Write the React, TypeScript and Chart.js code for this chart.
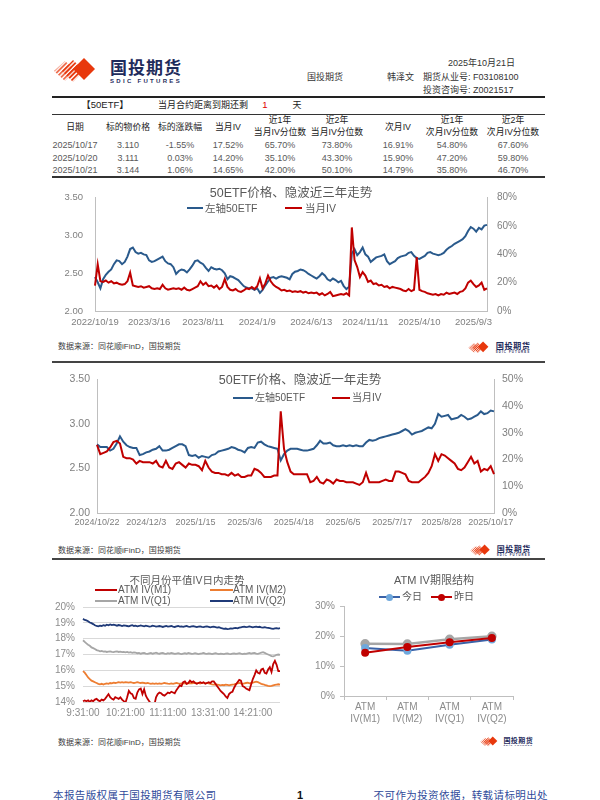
import React, { useEffect, useRef } from "react";
import { Chart, registerables } from "chart.js";

Chart.register(...registerables);

// ================= DATA =================
const reportDate = "2025年10月21日";
const tableDates = ["2025/10/17", "2025/10/20", "2025/10/21"];
const tablePrice = ["3.110", "3.111", "3.144"];
const tableChange = ["-1.55%", "0.03%", "1.06%"];
const tableIvM1 = ["17.52%", "14.20%", "14.65%"];
const tablePct1yM1 = ["65.70%", "35.10%", "42.00%"];
const tablePct2yM1 = ["73.80%", "43.30%", "50.10%"];
const tableIvM2 = ["16.91%", "15.90%", "14.79%"];
const tablePct1yM2 = ["54.80%", "47.20%", "35.80%"];
const tablePct2yM2 = ["67.60%", "59.80%", "46.70%"];
const daysToExpiry = "1";

const ticks3y = ["2022/10/19", "2023/3/16", "2023/8/11", "2024/1/9", "2024/6/13", "2024/11/11", "2025/4/10", "2025/9/3"];
const etf3y = [
  2.45, 2.38, 2.30, 2.42, 2.48, 2.52, 2.55, 2.62, 2.67, 2.66,
  2.62, 2.65, 2.72, 2.82, 2.84, 2.78, 2.76, 2.77, 2.75, 2.74,
  2.67, 2.65, 2.66, 2.68, 2.70, 2.72, 2.66, 2.63, 2.62, 2.58,
  2.49, 2.53, 2.55, 2.54, 2.51, 2.55, 2.60, 2.66, 2.67, 2.64,
  2.62, 2.57, 2.53, 2.58, 2.56, 2.55, 2.56, 2.54, 2.50, 2.42,
  2.46, 2.45, 2.43, 2.41, 2.37, 2.33, 2.31, 2.30, 2.30, 2.28,
  2.30, 2.24, 2.28, 2.34, 2.39, 2.44, 2.45, 2.43, 2.45, 2.46,
  2.45, 2.44, 2.42, 2.49, 2.52, 2.53, 2.55, 2.54, 2.52, 2.49,
  2.47, 2.45, 2.43, 2.46, 2.50, 2.47, 2.42, 2.40, 2.43, 2.41,
  2.38, 2.40, 2.33, 2.29, 2.32, 2.76, 2.82, 2.74, 2.78, 2.84,
  2.75, 2.72, 2.65, 2.68, 2.71, 2.72, 2.73, 2.75, 2.66, 2.62,
  2.64, 2.66, 2.70, 2.72, 2.73, 2.74, 2.77, 2.78, 2.73, 2.70,
  2.69, 2.71, 2.73, 2.77, 2.78, 2.76, 2.75, 2.74, 2.75, 2.77,
  2.81, 2.84, 2.86, 2.89, 2.91, 2.93, 2.95, 2.99, 3.06, 3.11,
  3.09, 3.05, 3.10, 3.08, 3.13, 3.14,
];
const iv3y = [
  18.0, 33.0, 21.0, 20.5, 21.5, 20.0, 21.0, 19.5, 20.0, 19.0,
  18.5, 19.0, 21.0, 27.0, 18.0, 17.5, 17.0, 17.5, 16.5, 17.0,
  17.5, 16.0, 15.5, 16.0, 15.5, 18.5, 16.0, 15.0, 15.5, 16.0,
  15.5, 16.0, 15.0, 16.5, 15.0, 14.5, 15.5, 16.5, 17.5, 21.0,
  18.5, 20.0, 17.5, 18.0, 16.5, 18.0, 15.5, 17.0, 22.5, 17.0,
  15.0, 14.5, 15.5, 14.0, 13.5, 14.5, 16.0, 15.5, 17.0, 15.5,
  17.5, 23.0, 16.0, 19.5, 25.0, 21.0, 18.5, 17.0, 16.0, 14.5,
  15.0, 14.0, 14.5, 13.5, 14.0, 13.5, 14.0, 13.0, 13.5, 12.5,
  13.0, 12.5, 13.0, 11.5, 12.5, 11.0, 12.0, 13.5, 10.5, 11.0,
  11.5, 12.0, 11.5, 12.5, 11.0, 59.0, 36.0, 31.0, 24.0, 27.5,
  25.0, 20.5, 21.5, 19.0, 19.5, 18.0, 18.5, 17.0, 17.5, 16.0,
  17.0, 16.5, 16.0, 15.5, 14.5, 14.0, 15.5, 14.0, 15.0, 38.0,
  15.0, 14.0, 13.5, 12.5, 12.0, 11.5, 12.0, 11.0, 12.0, 11.5,
  13.0, 12.0, 12.5, 13.0, 12.0, 13.5, 14.0, 16.0, 20.0, 21.5,
  19.0, 17.0, 18.0, 20.0, 15.0, 16.0,
];

const ticks1y = ["2024/10/22", "2024/12/3", "2025/1/15", "2025/3/6", "2025/4/18", "2025/6/5", "2025/7/17", "2025/8/28", "2025/10/17"];
const etf1y = [
  2.77, 2.74, 2.74, 2.74, 2.70, 2.72, 2.78, 2.86, 2.80, 2.76,
  2.74, 2.73, 2.73, 2.65, 2.66, 2.68, 2.69, 2.71, 2.72, 2.75,
  2.70, 2.70, 2.71, 2.73, 2.75, 2.77, 2.77, 2.75, 2.65, 2.64,
  2.65, 2.62, 2.64, 2.63, 2.62, 2.65, 2.66, 2.69, 2.70, 2.71,
  2.72, 2.74, 2.73, 2.71, 2.70, 2.68, 2.73, 2.74, 2.73, 2.79,
  2.80, 2.77, 2.75, 2.74, 2.73, 2.72, 2.59, 2.66, 2.70, 2.72,
  2.72, 2.72, 2.71, 2.70, 2.70, 2.71, 2.72, 2.76, 2.81, 2.78,
  2.78, 2.79, 2.76, 2.75, 2.75, 2.76, 2.75, 2.76, 2.75, 2.76,
  2.75, 2.75, 2.79, 2.82, 2.81, 2.82, 2.84, 2.85, 2.86, 2.87,
  2.88, 2.89, 2.90, 2.92, 2.94, 2.92, 2.88, 2.90, 2.91, 2.92,
  2.94, 2.96, 2.95, 3.00, 3.11, 3.08, 3.09, 3.10, 3.05, 3.06,
  3.07, 3.10, 3.08, 3.05, 3.06, 3.08, 3.10, 3.14, 3.11, 3.12,
  3.15, 3.14,
];
const iv1y = [
  25.5, 22.0, 22.5, 23.0, 24.5, 26.5, 27.0, 26.0, 21.0, 20.5,
  20.5, 20.0, 18.5, 19.5, 19.0, 19.0, 19.0, 18.5, 19.5, 17.5,
  17.0, 19.5, 17.0, 16.5, 18.5, 19.0, 18.0, 17.0, 18.5, 18.0,
  18.0, 17.5, 16.0, 19.5, 17.0, 15.5, 15.0, 15.0, 14.5, 14.5,
  14.0, 15.0, 14.0, 14.5, 13.5, 13.5, 14.0, 14.0, 16.5, 16.0,
  15.0, 13.5, 13.5, 13.5, 14.0, 14.0, 38.0, 24.0, 19.0, 15.5,
  14.5, 14.5, 14.5, 14.5, 14.5, 11.5, 12.0, 13.5, 11.5, 11.0,
  12.5, 12.0, 11.0, 12.5, 12.0, 12.0, 11.5, 11.5, 11.5, 11.0,
  10.5, 11.5, 15.0, 11.5, 11.5, 11.5, 11.5, 12.0, 12.5, 12.0,
  12.0, 15.5, 15.5, 15.0, 14.5, 12.0, 11.5, 11.5, 11.5, 12.5,
  13.5, 15.0, 17.5, 22.0, 19.5, 22.0, 21.5, 20.5, 19.5, 18.5,
  16.5, 16.0, 17.0, 19.0, 21.0, 18.5, 19.5, 15.5, 16.5, 16.0,
  17.5, 14.5,
];

const ticksIntraday = ["9:31:00", "10:21:00", "11:11:00", "13:31:00", "14:21:00"];
const ivM1 = [
  14.05, 14.10, 14.05, 14.10, 14.00, 14.10, 14.05, 14.15, 14.20, 14.10,
  14.05, 14.15, 14.10, 14.20, 14.35, 14.50, 14.30, 14.20, 14.15, 14.30,
  14.25, 14.20, 14.30, 14.15, 14.05, 13.95, 14.30, 14.70, 14.55, 14.50,
  14.25, 14.20, 14.60, 14.80, 14.85, 14.50, 14.80, 14.40, 14.20, 14.05,
  13.90, 13.70, 13.80, 14.30, 14.50, 14.60, 14.55, 14.45, 14.40, 14.50,
  14.60, 14.55, 14.65, 14.60, 14.55, 14.75, 14.90, 15.05, 15.00, 15.25,
  15.30, 15.15, 15.20, 15.35, 15.25, 15.30, 15.20, 15.15, 15.20, 15.25,
  15.20, 15.25, 15.15, 15.20, 15.25, 15.20, 15.30, 15.30, 15.15, 15.00,
  14.85, 14.70, 14.60, 14.50, 14.35, 14.25, 14.50, 14.60, 14.65, 14.90,
  15.10, 15.25, 15.40, 15.35, 15.00, 14.95, 14.85, 14.80, 14.75, 15.10,
  15.45, 15.70, 16.00, 15.85, 15.80, 16.05, 16.10, 15.85, 15.80, 16.05,
  16.20, 15.90, 16.40, 16.60, 16.35, 15.95, 15.95,
];
const ivM2 = [
  15.95, 15.85, 15.70, 15.55, 15.45, 15.35, 15.30, 15.25, 15.20, 15.15,
  15.12, 15.15, 15.10, 15.15, 15.18, 15.15, 15.20, 15.18, 15.22, 15.20,
  15.22, 15.25, 15.22, 15.25, 15.23, 15.26, 15.24, 15.22, 15.25, 15.22,
  15.20, 15.22, 15.25, 15.22, 15.20, 15.22, 15.20, 15.18, 15.20, 15.17,
  15.15, 15.18, 15.15, 15.17, 15.15, 15.18, 15.15, 15.17, 15.20, 15.18,
  15.16, 15.15, 15.17, 15.15, 15.18, 15.20, 15.17, 15.15, 15.18, 15.20,
  15.18, 15.16, 15.18, 15.20, 15.18, 15.20, 15.22, 15.18, 15.20, 15.17,
  15.20, 15.22, 15.18, 15.20, 15.17, 15.15, 15.12, 15.10, 15.12, 15.10,
  15.08, 15.05, 15.08, 15.06, 15.10, 15.08, 15.05, 15.08, 15.10, 15.12,
  15.15, 15.18, 15.20, 15.17, 15.15, 15.18, 15.20, 15.22, 15.18, 15.20,
  15.22, 15.25, 15.28, 15.25, 15.20, 15.15, 15.12, 15.08, 15.05, 15.02,
  15.00, 15.02, 15.05, 15.08, 15.10, 15.12, 15.10,
];
const ivQ1 = [
  17.90, 17.80, 17.70, 17.62, 17.55, 17.45, 17.40, 17.35, 17.28, 17.25,
  17.20, 17.22, 17.18, 17.20, 17.16, 17.18, 17.20, 17.17, 17.15, 17.18,
  17.20, 17.16, 17.18, 17.15, 17.17, 17.14, 17.16, 17.12, 17.15, 17.10,
  17.13, 17.12, 17.08, 17.10, 17.05, 17.08, 17.10, 17.06, 17.04, 17.07,
  17.10, 17.05, 17.08, 17.12, 17.07, 17.05, 17.08, 17.10, 17.06, 17.04,
  17.08, 17.06, 17.10, 17.07, 17.04, 17.06, 17.08, 17.05, 17.03, 17.06,
  17.08, 17.05, 17.10, 17.07, 17.04, 17.06, 17.09, 17.06, 17.03, 17.05,
  17.07, 17.10, 17.06, 17.04, 17.07, 17.05, 17.02, 17.05, 17.08, 17.05,
  17.03, 17.06, 17.04, 17.02, 17.05, 17.07, 17.04, 17.02, 17.05, 17.07,
  17.04, 17.06, 17.08, 17.05, 17.03, 17.06, 17.04, 17.07, 17.10, 17.06,
  17.08, 17.10, 17.06, 17.04, 17.08, 17.12, 17.15, 17.10, 17.05, 17.00,
  16.95, 16.90, 16.88, 16.92, 16.98, 17.00, 16.98,
];
const ivQ2 = [
  19.25, 19.18, 19.15, 19.10, 19.02, 18.98, 18.92, 18.85, 18.80, 18.78,
  18.82, 18.80, 18.85, 18.82, 18.88, 18.84, 18.90, 18.86, 18.88, 18.85,
  18.82, 18.86, 18.84, 18.80, 18.84, 18.82, 18.80, 18.78, 18.82, 18.85,
  18.80, 18.82, 18.78, 18.80, 18.84, 18.80, 18.78, 18.82, 18.80, 18.76,
  18.78, 18.82, 18.80, 18.76, 18.78, 18.80, 18.78, 18.74, 18.78, 18.80,
  18.76, 18.78, 18.80, 18.76, 18.74, 18.78, 18.80, 18.76, 18.78, 18.75,
  18.78, 18.80, 18.76, 18.74, 18.77, 18.79, 18.76, 18.73, 18.76, 18.78,
  18.75, 18.73, 18.76, 18.78, 18.75, 18.72, 18.74, 18.76, 18.73, 18.70,
  18.72, 18.68, 18.65, 18.62, 18.64, 18.60, 18.62, 18.65, 18.63, 18.66,
  18.68, 18.65, 18.70, 18.72, 18.74, 18.76, 18.73, 18.75, 18.78, 18.75,
  18.72, 18.74, 18.76, 18.73, 18.75, 18.72, 18.70, 18.73, 18.70, 18.68,
  18.66, 18.64, 18.62, 18.65, 18.67, 18.64, 18.66,
];

const termCategories = [["ATM", "IV(M1)"], ["ATM", "IV(M2)"], ["ATM", "IV(Q1)"], ["ATM", "IV(Q2)"]];
const termToday = [16.0, 15.1, 17.1, 18.8];
const termYesterday = [14.4, 16.3, 17.9, 19.3];
const termEarlier = [17.4, 17.3, 18.9, 19.9];

// ================= STYLE =================
const FONT = '"Liberation Sans", Arial, "Noto Sans CJK SC", sans-serif';
const CJK = '"Noto Sans CJK SC", "Liberation Sans", sans-serif';
const BLUE = "#2A5A8C";
const RED = "#C00000";
const ORANGE = "#ED7D31";
const GRAY = "#A6A6A6";
const NAVY = "#1F3A78";
const AXIS = "#BFBFBF";
const TICK = "#7F7F7F";

const labelsFrom = (n: number, step: number, ticks: string[]) =>
  Array.from({ length: n }, (_, i) => (i % step === 0 && ticks[i / step] ? ticks[i / step] : ""));

function dualConfig(etf: number[], iv: number[], ticks: string[], step: number, o: any) {
  return {
    type: "line",
    data: {
      labels: labelsFrom(etf.length, step, ticks),
      datasets: [
        { label: "当月IV", data: iv, yAxisID: "yR", borderColor: RED, borderWidth: 2, pointRadius: 0, order: 0 },
        { label: "左轴50ETF", data: etf, yAxisID: "yL", borderColor: BLUE, borderWidth: 2, pointRadius: 0, order: 1 },
      ],
    },
    options: {
      responsive: false,
      maintainAspectRatio: false,
      animation: false,
      layout: { padding: { top: o.top, left: 0, right: 0, bottom: 0 } },
      plugins: { legend: { display: false }, tooltip: { enabled: false }, title: { display: false } },
      elements: { line: { tension: 0 } },
      scales: {
        x: {
          type: "category",
          grid: { display: false, drawTicks: false },
          border: { display: true, color: AXIS, width: 1 },
          ticks: { autoSkip: false, maxRotation: 0, minRotation: 0, padding: o.xPad, color: TICK, font: { size: o.xFont, family: FONT } },
          afterFit: (s: any) => { s.height = o.xH; },
        },
        yL: {
          type: "linear",
          position: "left",
          min: 2,
          max: 3.5,
          grid: { display: false, drawTicks: false },
          border: { display: true, color: AXIS, width: 1 },
          ticks: { stepSize: 0.5, padding: o.lPad, color: TICK, font: { size: o.lFont, family: FONT }, callback: (v: any) => Number(v).toFixed(2) },
          afterFit: (s: any) => { s.width = o.lW; },
        },
        yR: {
          type: "linear",
          position: "right",
          min: 0,
          max: o.rMax,
          grid: { display: false, drawTicks: false },
          border: { display: true, color: AXIS, width: 1 },
          ticks: { stepSize: o.rStep, padding: o.rPad, color: TICK, font: { size: o.rFont, family: FONT }, callback: (v: any) => v + "%" },
          afterFit: (s: any) => { s.width = o.rW; },
        },
      },
    },
  };
}

function intradayConfig() {
  const ds = (label: string, data: number[], color: string, order: number) => ({
    label, data, borderColor: color, borderWidth: 1.8, pointRadius: 0, order,
  });
  return {
    type: "line",
    data: {
      labels: labelsFrom(ivM1.length, 25, ticksIntraday),
      datasets: [
        ds("ATM IV(M1)", ivM1, RED, 0),
        ds("ATM IV(M2)", ivM2, ORANGE, 1),
        ds("ATM IV(Q1)", ivQ1, GRAY, 2),
        ds("ATM IV(Q2)", ivQ2, NAVY, 3),
      ],
    },
    options: {
      responsive: false,
      maintainAspectRatio: false,
      animation: false,
      layout: { padding: { top: 42, left: 0, right: 20, bottom: 0 } },
      plugins: { legend: { display: false }, tooltip: { enabled: false } },
      elements: { line: { tension: 0 } },
      scales: {
        x: {
          type: "category",
          grid: { display: false, drawTicks: false },
          border: { display: false },
          ticks: { autoSkip: false, maxRotation: 0, padding: 5, color: "#8C8C8C", font: { size: 10, family: FONT } },
          afterFit: (s: any) => { s.height = 28; },
        },
        y: {
          min: 14,
          max: 20,
          grid: { color: "#D9D9D9", drawTicks: false },
          border: { display: false },
          ticks: { stepSize: 1, padding: 8, color: "#8C8C8C", font: { size: 10, family: FONT }, callback: (v: any) => v + "%" },
          afterFit: (s: any) => { s.width = 43; },
        },
      },
    },
  };
}

function termConfig() {
  return {
    type: "line",
    data: {
      labels: termCategories,
      datasets: [
        { label: "昨日", data: termYesterday, borderColor: RED, backgroundColor: RED, pointBackgroundColor: RED, pointBorderColor: RED, borderWidth: 2, pointRadius: 3, order: 0 },
        { label: "今日", data: termToday, borderColor: "#3A62A7", backgroundColor: "#6FA8DC", pointBackgroundColor: "#6FA8DC", pointBorderColor: "#6FA8DC", borderWidth: 2, pointRadius: 3, order: 1 },
        { label: "前日", data: termEarlier, borderColor: GRAY, backgroundColor: GRAY, pointBackgroundColor: GRAY, pointBorderColor: GRAY, borderWidth: 2.5, pointRadius: 3.5, order: 2 },
      ],
    },
    options: {
      responsive: false,
      maintainAspectRatio: false,
      animation: false,
      layout: { padding: { top: 41, left: 0, right: 47, bottom: 0 } },
      plugins: { legend: { display: false }, tooltip: { enabled: false } },
      elements: { line: { tension: 0 } },
      scales: {
        x: {
          type: "category",
          offset: true,
          grid: { display: true, drawOnChartArea: false, drawTicks: true, tickLength: 4, offset: true, color: AXIS },
          border: { display: true, color: AXIS },
          ticks: { autoSkip: false, maxRotation: 0, padding: 1, color: "#8C8C8C", font: { size: 10, family: FONT } },
          afterFit: (s: any) => { s.height = 34; },
        },
        y: {
          min: 0,
          max: 30,
          grid: { display: true, drawOnChartArea: false, drawTicks: true, tickLength: 4, color: AXIS },
          border: { display: true, color: AXIS },
          ticks: { stepSize: 10, padding: 5, color: "#8C8C8C", font: { size: 10, family: FONT }, callback: (v: any) => v + "%" },
          afterFit: (s: any) => { s.width = 44; },
        },
      },
    },
  };
}

// ================= COMPONENTS =================
function ChartCanvas({ left, top, width, height, make }: any) {
  const ref = useRef<HTMLCanvasElement | null>(null);
  useEffect(() => {
    const chart = new Chart(ref.current as HTMLCanvasElement, make());
    return () => chart.destroy();
  }, []);
  return (
    <canvas
      ref={ref}
      width={width}
      height={height}
      style={{ position: "absolute", left, top, width, height }}
    />
  );
}

function Txt({ x, y, children, size = 9, color = "#333", align = "center", weight = 400, family = FONT, spacing = 0 }: any) {
  const tx = align === "center" ? "-50%" : align === "right" ? "-100%" : "0";
  return (
    <div
      style={{
        position: "absolute",
        left: x,
        top: y,
        transform: `translate(${tx},-50%)`,
        fontSize: size,
        color,
        fontWeight: weight,
        fontFamily: family,
        whiteSpace: "nowrap",
        lineHeight: 1,
        letterSpacing: spacing,
      }}
    >
      {children}
    </div>
  );
}

function HLine({ x1, x2, y, t = 1, color = "#333" }: any) {
  return <div style={{ position: "absolute", left: x1, top: y - t / 2, width: x2 - x1, height: t, background: color }} />;
}

function LegendItem({ x1, x2, y, color, text, textX, size = 10, marker, markerColor }: any) {
  return (
    <>
      <div style={{ position: "absolute", left: x1, top: y - 1.25, width: x2 - x1, height: 2.5, background: color }} />
      {marker ? (
        <div
          style={{
            position: "absolute",
            left: (x1 + x2) / 2 - 3.5,
            top: y - 3.5,
            width: 7,
            height: 7,
            borderRadius: "50%",
            background: markerColor || color,
          }}
        />
      ) : null}
      <Txt x={textX} y={y} align="left" size={size} color="#595959">{text}</Txt>
    </>
  );
}

function Logo({ x, y, w, id }: any) {
  const h = (w / 136) * 26;
  return (
    <svg style={{ position: "absolute", left: x, top: y }} width={w} height={h} viewBox="0 0 136 26">
      <defs>
        <pattern id={id} width="3.2" height="3.2" patternUnits="userSpaceOnUse" patternTransform="rotate(45)">
          <rect width="1.8" height="3.2" fill="#E8380D" />
        </pattern>
      </defs>
      <polygon points="1,14 12,4 23,14 12,24" fill={`url(#${id})`} opacity="0.75" />
      <polygon points="9,14 20,3 31,14 20,25" fill={`url(#${id})`} />
      <polygon points="20,12 31,1 42,12 31,23" fill="#E8380D" />
      <text x="57" y="17" fontSize="17" fontWeight="700" fill="#1F2C5C" fontFamily={CJK} letterSpacing="1">国投期货</text>
      <text x="57" y="25.5" fontSize="6" fontWeight="700" fill="#1F2C5C" fontFamily={FONT} letterSpacing="2.3">SDIC FUTURES</text>
    </svg>
  );
}

const colX = [75, 128, 180, 228, 280, 337, 398, 452, 513];
const tableHeaders = [
  ["日期"], ["标的物价格"], ["标的涨跌幅"], ["当月IV"], ["近1年", "当月IV分位数"],
  ["近2年", "当月IV分位数"], ["次月IV"], ["近1年", "次月IV分位数"], ["近2年", "次月IV分位数"],
];
const tableCols = [tableDates, tablePrice, tableChange, tableIvM1, tablePct1yM1, tablePct2yM1, tableIvM2, tablePct1yM2, tablePct2yM2];
const rowY = [145, 157.5, 170];

export default function App() {
  const src = "数据来源：同花顺iFinD，国投期货";
  return (
    <div
      style={{
        position: "absolute",
        left: 0,
        top: 0,
        width: 600,
        height: 800,
        background: "#fff",
        overflow: "hidden",
        fontFamily: FONT,
      }}
    >
      {/* header */}
      <Logo x={53} y={57} w={136} id="lg0" />
      <Txt x={515} y={63} align="right" size={9} color="#333">{reportDate}</Txt>
      <Txt x={307} y={77} align="left" size={9} color="#333">国投期货</Txt>
      <Txt x={387} y={77} align="left" size={9} color="#333">韩泽文</Txt>
      <Txt x={423} y={77} align="left" size={9} color="#333">期货从业号: F03108100</Txt>
      <Txt x={423} y={90} align="left" size={9} color="#333">投资咨询号: Z0021517</Txt>
      <HLine x1={52} x2={545} y={97} t={2} color="#222" />

      {/* table */}
      <Txt x={105} y={104.5} size={9.5} color="#222">【50ETF】</Txt>
      <Txt x={203} y={104.5} size={9} color="#222">当月合约距离到期还剩</Txt>
      <Txt x={265} y={104.5} size={9.5} color="#E00000">{daysToExpiry}</Txt>
      <Txt x={297} y={104.5} size={9} color="#222">天</Txt>
      <HLine x1={52} x2={545} y={114} t={1} color="#333" />
      {tableHeaders.map((h, c) =>
        h.length === 1 ? (
          <Txt key={"h" + c} x={colX[c]} y={126.5} size={8.8} color="#222">{h[0]}</Txt>
        ) : (
          <React.Fragment key={"h" + c}>
            <Txt x={colX[c]} y={120} size={8.8} color="#222">{h[0]}</Txt>
            <Txt x={colX[c]} y={132} size={8.8} color="#222">{h[1]}</Txt>
          </React.Fragment>
        )
      )}
      {tableCols.map((col, c) =>
        col.map((v, r) => (
          <Txt key={"d" + c + "-" + r} x={colX[c]} y={rowY[r]} size={9} color="#595959">{v}</Txt>
        ))
      )}
      <HLine x1={52} x2={545} y={177} t={1.5} color="#333" />

      {/* chart 1: 3 years */}
      <ChartCanvas
        left={40}
        top={180}
        width={520}
        height={160}
        make={() =>
          dualConfig(etf3y, iv3y, ticks3y, 20, {
            top: 9, xPad: 6, xFont: 9.5, xH: 29, lPad: 12, lFont: 9.5, lW: 55, rMax: 80, rStep: 20, rPad: 10, rFont: 10, rW: 73,
          })
        }
      />
      <Txt x={291} y={193} size={12.5} color="#595959">50ETF价格、隐波近三年走势</Txt>
      <LegendItem x1={187} x2={203} y={208} color={BLUE} text="左轴50ETF" textX={205} size={10.5} />
      <LegendItem x1={285} x2={302} y={208} color={RED} text="当月IV" textX={305} size={10.5} />
      <Txt x={58} y={347} align="left" size={8} color="#404040">{src}</Txt>
      <Logo x={468} y={341} w={66} id="lg1" />
      <HLine x1={52} x2={545} y={362} t={1.5} color="#444" />

      {/* chart 2: 1 year */}
      <ChartCanvas
        left={40}
        top={365}
        width={520}
        height={170}
        make={() =>
          dualConfig(etf1y, iv1y, ticks1y, 15, {
            top: 13, xPad: 4, xFont: 9, xH: 22, lPad: 7, lFont: 10.5, lW: 57, rMax: 50, rStep: 10, rPad: 8, rFont: 10.5, rW: 66,
          })
        }
      />
      <Txt x={300} y={380} size={12.5} color="#595959">50ETF价格、隐波近一年走势</Txt>
      <LegendItem x1={233} x2={253} y={398} color={BLUE} text="左轴50ETF" textX={255} size={10} />
      <LegendItem x1={332} x2={350} y={398} color={RED} text="当月IV" textX={352} size={10} />
      <Txt x={58} y={551} align="left" size={8} color="#404040">{src}</Txt>
      <Logo x={470} y={544} w={64} id="lg2" />
      <HLine x1={52} x2={545} y={559} t={1.5} color="#444" />

      {/* chart 3: intraday */}
      <ChartCanvas left={40} top={565} width={260} height={165} make={intradayConfig} />
      <Txt x={187} y={580} size={10.5} color="#595959">不同月份平值IV日内走势</Txt>
      <LegendItem x1={95} x2={117} y={590} color={RED} text="ATM IV(M1)" textX={118} size={10} />
      <LegendItem x1={210} x2={233} y={590} color={ORANGE} text="ATM IV(M2)" textX={233} size={10} />
      <LegendItem x1={95} x2={117} y={601} color={GRAY} text="ATM IV(Q1)" textX={118} size={10} />
      <LegendItem x1={210} x2={233} y={601} color={NAVY} text="ATM IV(Q2)" textX={233} size={10} />

      {/* chart 4: term structure */}
      <ChartCanvas left={300} top={565} width={260} height={165} make={termConfig} />
      <Txt x={434} y={580} size={11} color="#595959">ATM IV期限结构</Txt>
      <LegendItem x1={379} x2={400} y={597} color="#3A62A7" marker markerColor="#6FA8DC" text="今日" textX={402} size={10} />
      <LegendItem x1={431} x2={452} y={597} color={RED} marker text="昨日" textX={454} size={10} />

      <Txt x={58} y={743} align="left" size={8} color="#404040">{src}</Txt>
      <Logo x={480} y={736} w={56} id="lg3" />

      {/* footer */}
      <Txt x={53} y={795} align="left" size={10.5} color="#2F4A9A" family={CJK} spacing={0.4}>本报告版权属于国投期货有限公司</Txt>
      <Txt x={300} y={795} size={11} color="#111" weight={700}>1</Txt>
      <Txt x={548} y={795} align="right" size={10.5} color="#2F4A9A" family={CJK} spacing={0.4}>不可作为投资依据，转载请标明出处</Txt>
    </div>
  );
}
